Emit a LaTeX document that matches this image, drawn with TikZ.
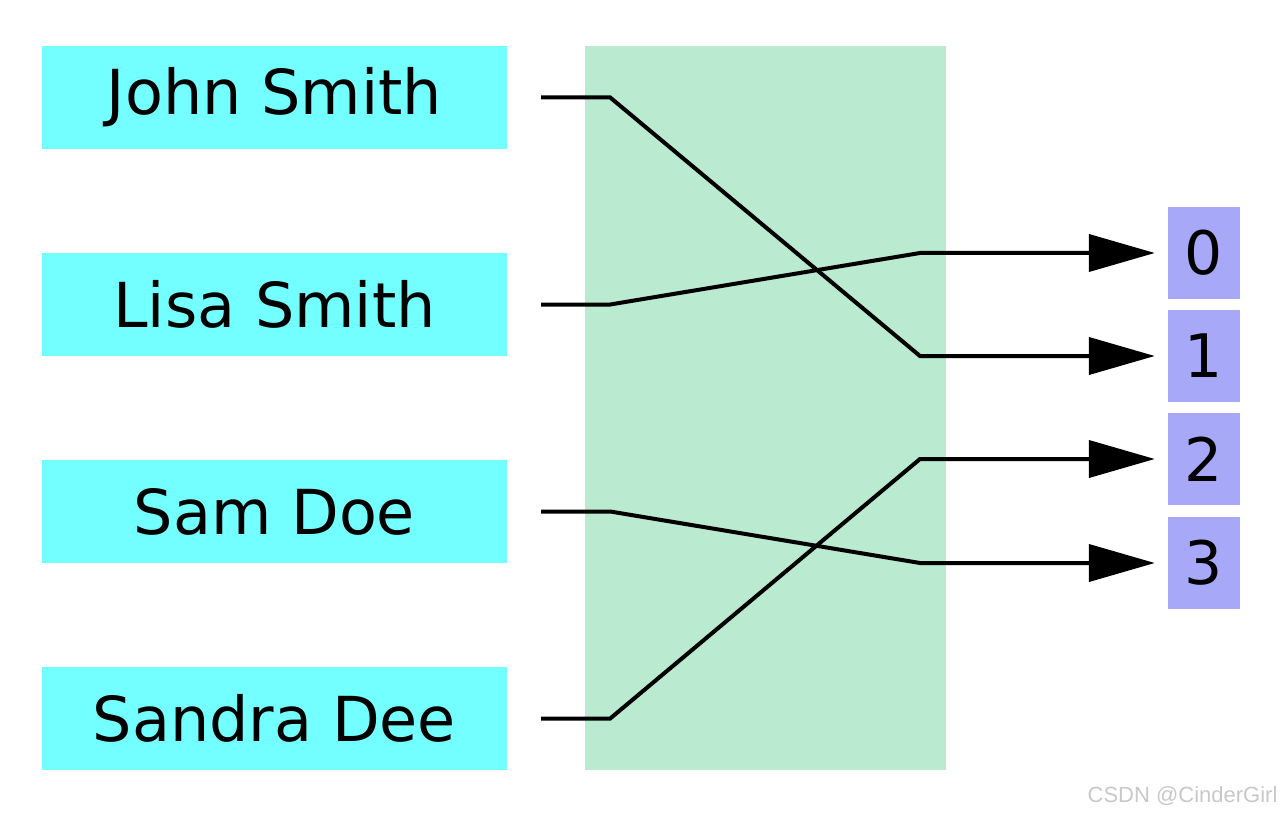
\documentclass[tikz,border=0pt]{standalone}
\usepackage{fontspec}
\setmainfont{DejaVu Sans}
\newfontfamily\markfont{Liberation Sans}
\usetikzlibrary{arrows.meta,calc}
\definecolor{keyCyan}{RGB}{115,255,255}
\definecolor{hashGreen}{RGB}{186,234,208}
\definecolor{slotBlue}{RGB}{168,168,248}
\definecolor{markGray}{RGB}{200,200,200}

\begin{document}
\begin{tikzpicture}[x=1pt,y=-1pt,
  keybox/.style={fill=keyCyan,minimum width=465pt,minimum height=103pt,inner sep=0pt,font=\fontsize{62}{74}\selectfont},
  slot/.style={fill=slotBlue,minimum width=72pt,minimum height=92pt,inner sep=0pt,font=\fontsize{60}{72}\selectfont},
  link/.style={line width=4pt,-{Triangle[length=66pt,width=37pt]},shorten >=13pt}]
  \useasboundingbox (0,0) rectangle (1284,818);
  \node[fill=hashGreen,minimum width=361pt,minimum height=724pt,inner sep=0pt] (hash) at (765.5,408) {};
  \node[keybox] (john) at (274.5,97.5) {John Smith};
  \node[keybox] (lisa) at (274.5,304.5) {Lisa Smith};
  \node[keybox] (sam) at (274.5,511.5) {Sam Doe};
  \node[keybox] (sandra) at (274.5,718.5) {Sandra Dee};
  \foreach \i/\y in {0/253,1/356,2/459,3/563}
    \node[slot] (idx\i) at (1204,\y) {\i};
  \coordinate (bend) at (920,0);
  % keys -> slots
  \draw[link] ([xshift=34pt]john.east) -- ++(69,0) -- (bend |- idx1.west) -- (idx1.west);
  \draw[link] ([xshift=34pt]lisa.east) -- ++(69,0) -- (bend |- idx0.west) -- (idx0.west);
  \draw[link] ([xshift=34pt]sam.east) -- ++(69,0) -- (bend |- idx3.west) -- (idx3.west);
  \draw[link] ([xshift=34pt]sandra.east) -- ++(69,0) -- (bend |- idx2.west) -- (idx2.west);
  \node[text=markGray,font=\markfont\fontsize{22}{26}\selectfont,anchor=east] (mark) at (1281,796) {CSDN @CinderGirl};
\end{tikzpicture}
\end{document}
